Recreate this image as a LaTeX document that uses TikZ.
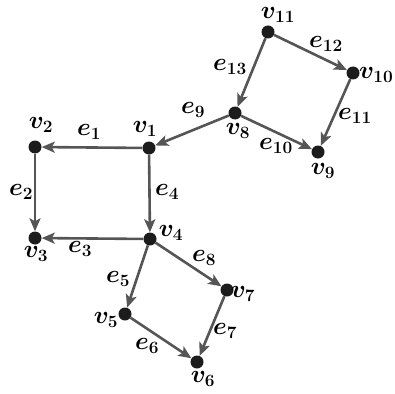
\documentclass[tikz,border=0pt]{standalone}
\usetikzlibrary{arrows.meta}
\definecolor{edgegray}{HTML}{555555}
\definecolor{dotblack}{HTML}{1C1C1C}
\tikzset{
  vert/.style={circle,fill=dotblack,inner sep=0pt,minimum size=13pt},
  arc/.style={draw=edgegray,line width=2.6pt,-{Stealth[length=13pt,width=11pt,inset=3pt]}},
  lab/.style={inner sep=0pt,font=\fontsize{24}{28}\selectfont\boldmath}
}
\begin{document}
\begin{tikzpicture}[x=1pt,y=-1pt]
\useasboundingbox (0,0) rectangle (395,393);
\node[vert] (v1) at (149,148) {};
\node[vert] (v2) at (35,147) {};
\node[vert] (v3) at (35,238) {};
\node[vert] (v4) at (150,239) {};
\node[vert] (v5) at (125,314) {};
\node[vert] (v6) at (197,362) {};
\node[vert] (v7) at (227,290) {};
\node[vert] (v8) at (235,113) {};
\node[vert] (v9) at (318,152) {};
\node[vert] (v10) at (353,73) {};
\node[vert] (v11) at (268,32) {};
\draw[arc] (v1) -- (v2);
\draw[arc] (v2) -- (v3);
\draw[arc] (v4) -- (v3);
\draw[arc] (v1) -- (v4);
\draw[arc] (v4) -- (v5);
\draw[arc] (v5) -- (v6);
\draw[arc] (v7) -- (v6);
\draw[arc] (v4) -- (v7);
\draw[arc] (v8) -- (v1);
\draw[arc] (v8) -- (v9);
\draw[arc] (v10) -- (v9);
\draw[arc] (v11) -- (v10);
\draw[arc] (v11) -- (v8);
\node[lab] (lv1) at (145,129) {$v_1$};
\node[lab] (lv2) at (41,125) {$v_2$};
\node[lab] (lv3) at (36,254) {$v_3$};
\node[lab] (lv4) at (171,233) {$v_4$};
\node[lab] (lv5) at (106,320) {$v_5$};
\node[lab] (lv6) at (203,379) {$v_6$};
\node[lab] (lv7) at (243,294) {$v_7$};
\node[lab] (lv8) at (238,131) {$v_8$};
\node[lab] (lv9) at (323,171) {$v_9$};
\node[lab,anchor=west] (lv10) at (359,75) {$v_{10}$};
\node[lab] (lv11) at (278,15) {$v_{11}$};
\node[lab] (le1) at (89,132) {$e_1$};
\node[lab] (le2) at (21,192) {$e_2$};
\node[lab] (le3) at (80,249) {$e_3$};
\node[lab] (le4) at (167,192) {$e_4$};
\node[lab] (le5) at (118,279) {$e_5$};
\node[lab] (le6) at (147,346) {$e_6$};
\node[lab] (le7) at (225,331) {$e_7$};
\node[lab] (le8) at (204,258) {$e_8$};
\node[lab] (le9) at (193,110) {$e_9$};
\node[lab] (le10) at (276,146) {$e_{10}$};
\node[lab] (le11) at (355,116) {$e_{11}$};
\node[lab] (le12) at (326,44) {$e_{12}$};
\node[lab] (le13) at (230,67) {$e_{13}$};
\end{tikzpicture}
\end{document}
